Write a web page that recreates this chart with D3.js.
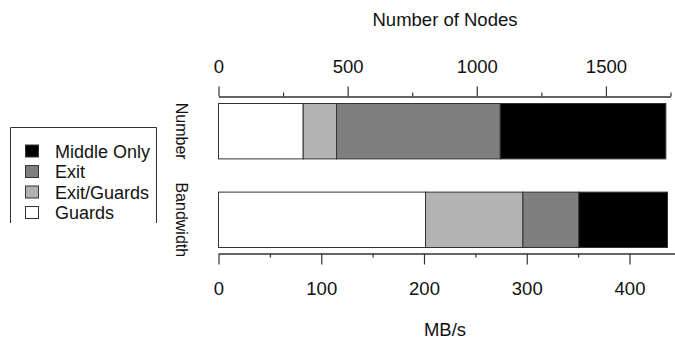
<!DOCTYPE html>
<html>
<head>
<meta charset="utf-8">
<script src="https://cdn.jsdelivr.net/npm/d3@7"></script>
<style>
  body { margin: 0; background: #fff; }
  svg { display: block; font-family: "Liberation Sans", Arial, sans-serif; }
</style>
</head>
<body>
<svg id="chart" width="675" height="341"></svg>
<script>
// data
const categories = ["Guards", "Exit/Guards", "Exit", "Middle Only"];
const rows = ["Number", "Bandwidth"];
const nodeCounts = [328, 129, 634, 641];       // number of nodes
const bandwidthMB = [201.5, 94.8, 54.4, 86.3]; // MB/s
const nodeTicks = [0, 500, 1000, 1500];
const nodeMinor = [250, 750, 1250, 1750];
const bwTicks = [0, 100, 200, 300, 400];
const bwMinor = [50, 150, 250, 350, 450];
const legendOrder = ["Middle Only", "Exit", "Exit/Guards", "Guards"];

const colors = d3.scaleOrdinal()
  .domain(categories)
  .range(["#ffffff", "#b3b3b3", "#7f7f7f", "#000000"]);

const svg = d3.select("#chart");
const left = 218.5;

const xNodes = d3.scaleLinear().domain([0, 1750]).range([left, 670.5]);
const xBw = d3.scaleLinear().domain([0, 450]).range([left, left + 450 * 1.0275]);

const y = d3.scaleBand().domain(rows).range([103.5, 247.5]).paddingInner(0.375).paddingOuter(0);

function stack(vals) {
  let acc = 0;
  return vals.map((v, i) => { const d = { cat: categories[i], x0: acc, x1: acc + v }; acc += v; return d; });
}

const bars = [
  { row: "Number", scale: xNodes, segs: stack(nodeCounts) },
  { row: "Bandwidth", scale: xBw, segs: stack(bandwidthMB) }
];

bars.forEach(b => {
  svg.append("g").selectAll("rect")
    .data(b.segs)
    .enter().append("rect")
    .attr("x", d => b.scale(d.x0))
    .attr("width", d => b.scale(d.x1) - b.scale(d.x0))
    .attr("y", y(b.row))
    .attr("height", y.bandwidth())
    .attr("fill", d => colors(d.cat))
    .attr("stroke", "#333")
    .attr("stroke-width", 1);

  svg.append("text")
    .attr("transform", "translate(" + 175.5 + "," + (y(b.row) + y.bandwidth() / 2) + ") rotate(90)")
    .attr("text-anchor", "middle")
    .attr("font-size", 16)
    .attr("fill", "#111")
    .text(b.row);
});

// top axis (nodes)
const topY = 96.5;
svg.append("g")
  .attr("transform", "translate(0," + topY + ")")
  .call(d3.axisTop(xNodes).tickValues(nodeTicks).tickFormat(d3.format("d")).tickSize(10).tickPadding(14).tickSizeOuter(0))
  .call(g => g.selectAll("text").attr("font-size", 18.5).attr("fill", "#111"));
svg.append("g")
  .attr("transform", "translate(0," + topY + ")")
  .call(d3.axisTop(xNodes).tickValues(nodeMinor).tickSize(4).tickFormat("").tickSizeOuter(0));

// bottom axis (bandwidth)
const botY = 253.5;
svg.append("g")
  .attr("transform", "translate(0," + botY + ")")
  .call(d3.axisBottom(xBw).tickValues(bwTicks).tickFormat(d3.format("d")).tickSize(11).tickPadding(17).tickSizeOuter(0))
  .call(g => g.selectAll("text").attr("font-size", 18.5).attr("fill", "#111"));
svg.append("g")
  .attr("transform", "translate(0," + botY + ")")
  .call(d3.axisBottom(xBw).tickValues(bwMinor).tickSize(4).tickFormat("").tickSizeOuter(0));

svg.selectAll("g").attr("font-family", null);
svg.selectAll(".domain, .tick line").attr("stroke", "#333").attr("stroke-width", 1.2);

// axis titles
svg.append("text").attr("x", 445).attr("y", 26).attr("text-anchor", "middle")
  .attr("font-size", 18.5).attr("fill", "#111").text("Number of Nodes");
svg.append("text").attr("x", 445).attr("y", 336).attr("text-anchor", "middle")
  .attr("font-size", 18.5).attr("fill", "#111").text("MB/s");

// legend (box open at the bottom, as in the original)
const lg = svg.append("g");
lg.append("path")
  .attr("d", "M10.5,223 V127.5 H156.5 V223")
  .attr("fill", "none").attr("stroke", "#333").attr("stroke-width", 1);
const item = lg.selectAll("g.item")
  .data(legendOrder)
  .enter().append("g")
  .attr("class", "item")
  .attr("transform", (d, i) => "translate(0," + (151 + i * 20.5) + ")");
item.append("rect")
  .attr("x", 25.5).attr("y", -6).attr("width", 13).attr("height", 12)
  .attr("fill", d => colors(d)).attr("stroke", "#333");
item.append("text")
  .attr("x", 55).attr("y", 6.5)
  .attr("font-size", 18).attr("fill", "#111")
  .text(d => d);
</script>
</body>
</html>
